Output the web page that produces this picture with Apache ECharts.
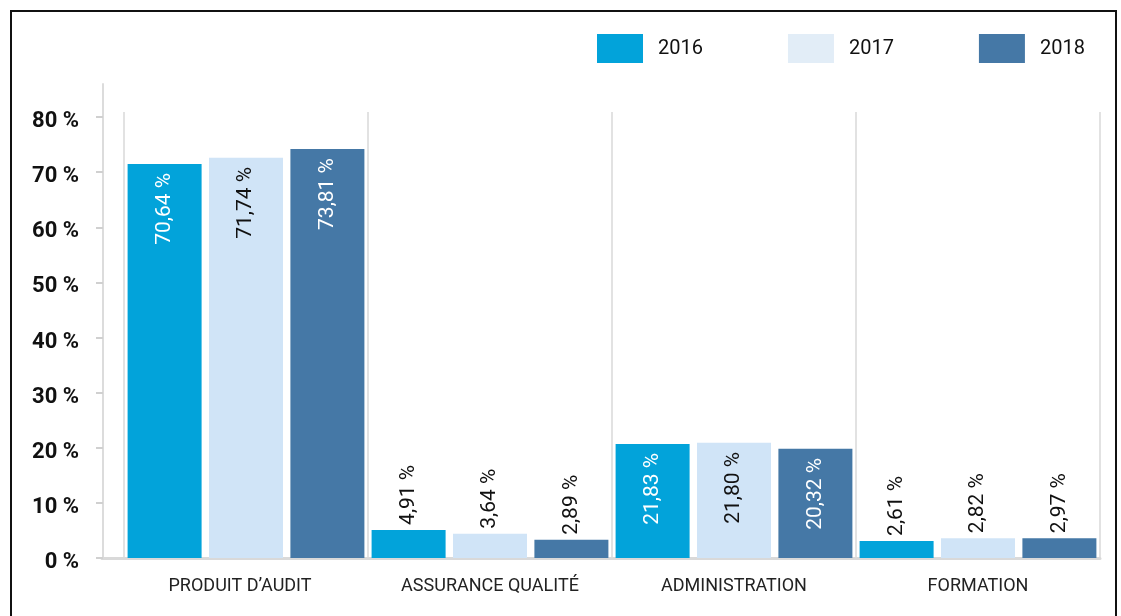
<!DOCTYPE html>
<html>
<head>
<meta charset="utf-8">
<script src="https://cdn.jsdelivr.net/npm/echarts@6/dist/echarts.min.js"></script>
<style>
html,body{margin:0;padding:0;background:#fff;}
#chart{width:1121px;height:616px;}
</style>
</head>
<body>
<div id="chart"></div>
<script>
var categories = ["PRODUIT D\u2019AUDIT", "ASSURANCE QUALIT\u00c9", "ADMINISTRATION", "FORMATION"];
var years = ["2016", "2017", "2018"];
var colors = ["#02a3da", "#d0e4f7", "#4578a6"];
var legendColors = ["#02a3da", "#e2edf7", "#4578a6"];

// bar heights as drawn
var h2016 = [71.5, 5.1, 20.7, 3.1];
var h2017 = [72.6, 4.4, 20.9, 3.6];
var h2018 = [74.2, 3.3, 19.8, 3.6];

// printed labels
var lbl2016 = ["70,64 %", "4,91 %", "21,83 %", "2,61 %"];
var lbl2017 = ["71,74 %", "3,64 %", "21,80 %", "2,82 %"];
var lbl2018 = ["73,81 %", "2,89 %", "20,32 %", "2,97 %"];

var yTicks = [0, 10, 20, 30, 40, 50, 60, 70, 80];

var heights = [h2016, h2017, h2018];
var labels = [lbl2016, lbl2017, lbl2018];
var insideColor = ["#fff", "#111", "#fff"];

var chart = echarts.init(document.getElementById("chart"));

function buildSeries(k){
	var data = [];
	for (var i = 0; i < categories.length; i++) {
		var v = heights[k][i];
		var tall = v > 10;
		data.push({
			value: v,
			label: tall ? {
				position: "insideTop", distance: 9, align: "right",
				color: insideColor[k]
			} : {
				position: "top", distance: 5, align: "left",
				color: "#111"
			}
		});
	}
	return {
		name: years[k],
		type: "bar",
		xAxisIndex: 0,
		yAxisIndex: 0,
		barWidth: 74,
		barGap: "10%",
		itemStyle: {color: colors[k]},
		label: {
			show: true,
			rotate: 90,
			verticalAlign: "middle",
			fontFamily: "Roboto",
			fontSize: 21,
			formatter: function(p){ return labels[k][p.dataIndex]; }
		},
		data: data
	};
}

var series = [];
for (var k = 0; k < years.length; k++) series.push(buildSeries(k));

var option = {
	animation: false,
	textStyle: {fontFamily: "Roboto"},
	graphic: [{
		type: "rect",
		shape: {x: 11, y: 11, width: 1105, height: 640},
		style: {fill: "none", stroke: "#111", lineWidth: 2},
		silent: true
	}],
	legend: {
		left: 592,
		top: 29,
		itemWidth: 46,
		itemHeight: 29,
		itemGap: 85,
		icon: "rect",
		textStyle: {fontSize: 20, color: "#111", padding: [0, 0, 0, 10], fontFamily: "Roboto"},
		data: years.map(function(y, i){ return {name: y, itemStyle: {color: legendColors[i]}}; })
	},
	grid: [
		{left: 124, right: 21, top: 84, bottom: 58},
		{left: 102, right: 21, top: 84, bottom: 58},
		{left: 124, right: 21, top: 112, bottom: 58}
	],
	xAxis: [
		{
			gridIndex: 0, type: "category", data: categories,
			axisLine: {show: false}, axisTick: {show: false},
			axisLabel: {
				fontSize: 18, color: "#222", margin: 19, fontFamily: "Roboto",
				formatter: function(v, i){ return i === 0 ? "{a|" + v + "}" : v; },
				rich: {a: {fontSize: 18, color: "#222", fontFamily: "Roboto", padding: [0, 12, 0, 0]}}
			},
			splitLine: {show: false}
		},
		{
			gridIndex: 1, type: "value", min: 0, max: 1,
			axisLine: {show: true, lineStyle: {color: "#d9d9d9", width: 3}},
			axisTick: {show: false}, axisLabel: {show: false}, splitLine: {show: false}
		},
		{
			gridIndex: 2, type: "category", data: categories,
			axisLine: {show: false}, axisTick: {show: false}, axisLabel: {show: false},
			splitLine: {show: true, lineStyle: {color: "#e2e2e2", width: 2}}
		}
	],
	yAxis: [
		{
			gridIndex: 0, type: "value", min: 0, max: 86, interval: 10,
			offset: 21,
			axisLine: {show: true, lineStyle: {color: "#dcdcdc", width: 2}},
			axisTick: {show: true, length: 7, customValues: yTicks, lineStyle: {color: "#d0d0d0", width: 2}},
			axisLabel: {
				customValues: yTicks, margin: 24,
				formatter: function(v){ return "{a|" + v + " %}"; },
				rich: {a: {fontSize: 22, fontWeight: "bold", color: "#111", fontFamily: "Roboto", padding: [9, 0, 0, 0]}}
			},
			splitLine: {show: false}
		},
		{gridIndex: 1, type: "value", show: false},
		{gridIndex: 2, type: "value", show: false}
	],
	series: series
};

chart.setOption(option);
</script>
</body>
</html>
